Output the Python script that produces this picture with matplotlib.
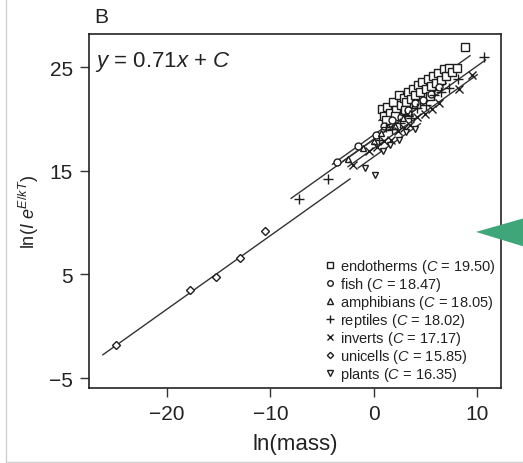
import matplotlib.pyplot as plt
from matplotlib.patches import Polygon
from matplotlib.lines import Line2D

plt.rcParams['font.family'] = ['Liberation Sans', 'DejaVu Sans']
plt.rcParams['mathtext.fontset'] = 'custom'
plt.rcParams['mathtext.rm'] = 'Liberation Sans'
plt.rcParams['mathtext.it'] = 'Liberation Sans:italic'

# Common slope and the group intercepts
slope = 0.71
groups = ["endotherms", "fish", "amphibians", "reptiles", "inverts", "unicells", "plants"]
intercepts = [19.50, 18.47, 18.05, 18.02, 17.17, 15.85, 16.35]

# x range each group's fitted line covers
line_start = [0.5, -4.0, -3.0, -8.0, -2.5, -26.2, -1.5]
line_end = [9.3, 7.0, 4.0, 10.8, 10.0, -2.3, 4.5]

# Points, one pair of lists per group
endo_x = [0.8, 1.0, 1.3, 1.6, 1.9, 2.1, 2.4, 2.6, 2.9, 3.1, 3.3, 3.6, 3.8, 4.0, 4.3, 4.5, 4.7,
          5.0, 5.2, 5.5, 5.7, 6.0, 6.2, 6.5, 6.8, 7.0, 7.3, 7.6, 8.0, 8.8, 1.2, 2.0, 3.0, 4.1, 5.4]
endo_y = [21.0, 20.3, 21.2, 20.6, 21.6, 20.9, 22.3, 21.3, 22.0, 21.6, 22.6, 21.9, 22.9, 22.3, 23.3,
          22.6, 23.6, 22.9, 23.9, 23.2, 24.1, 23.5, 24.4, 23.8, 24.8, 24.1, 24.9, 24.5, 24.9, 26.9,
          19.9, 20.3, 20.9, 21.4, 22.2]
fish_x = [-3.6, -1.5, 0.2, 1.0, 1.8, 2.6, 3.3, 4.0, 4.8, 5.5, 6.3]
fish_y = [15.8, 17.4, 18.5, 19.3, 19.9, 20.2, 20.9, 21.5, 21.8, 22.4, 23.1]
amph_x = [-2.5, -1.0, 0.0, 0.7, 1.4, 2.0, 2.8, 3.5]
amph_y = [16.1, 17.2, 17.9, 18.6, 19.2, 19.3, 20.1, 20.6]
rept_x = [-7.2, -4.4, 0.5, 1.2, 1.8, 2.5, 3.0, 3.6, 4.2, 5.0, 5.8, 6.5, 7.3, 8.1, 10.7]
rept_y = [12.3, 14.2, 18.0, 19.2, 19.0, 19.6, 20.4, 20.1, 21.1, 21.3, 22.3, 22.6, 23.0, 23.9, 26.0]
inv_x = [-2.0, -0.5, 0.3, 1.0, 1.7, 2.3, 2.9, 3.5, 4.2, 4.9, 5.6, 6.3, 8.2, 9.5]
inv_y = [15.6, 16.9, 17.3, 17.9, 18.0, 18.8, 19.1, 19.4, 20.2, 20.5, 21.0, 21.5, 22.9, 24.2]
uni_x = [-24.9, -17.8, -15.3, -12.9, -10.55]
uni_y = [-1.8, 3.5, 4.8, 6.6, 9.15]
plant_x = [-0.9, 0.1, 0.9, 1.6, 2.4, 3.1, 4.0]
plant_y = [15.3, 14.6, 16.9, 17.5, 18.0, 18.7, 19.0]

points_x = [endo_x, fish_x, amph_x, rept_x, inv_x, uni_x, plant_x]
points_y = [endo_y, fish_y, amph_y, rept_y, inv_y, uni_y, plant_y]
markers = ['s', 'o', '^', '+', 'x', 'D', 'v']
sizes = [5.5, 5, 5, 6.5, 5.5, 4, 5]

fig = plt.figure(figsize=(5.23, 4.64), dpi=100)
ax = fig.add_axes([0.170, 0.1616, 0.788, 0.763])

# Fitted lines first, markers on top
for i in range(len(groups)):
    xs = [line_start[i], line_end[i]]
    ys = [slope * v + intercepts[i] for v in xs]
    ax.plot(xs, ys, color='#333333', lw=1.0, zorder=1)

handles = []
for i in range(len(groups)):
    ax.plot(points_x[i], points_y[i], linestyle='none', marker=markers[i], ms=sizes[i],
            mfc='white' if markers[i] not in ['+', 'x'] else 'none', mec='#1e1e1e', mew=1.0, zorder=2)
    label = groups[i] + r" ($\mathit{C}$ = %.2f)" % intercepts[i]
    handles.append(Line2D([], [], linestyle='none', marker=markers[i], ms=sizes[i] * 0.8,
                          mfc='none', mec='#1e1e1e', mew=1.0, label=label))

ax.set_xlim(-27.55, 12.3)
ax.set_ylim(-5.96, 28.2)
ax.set_xticks([-20, -10, 0, 10])
ax.set_yticks([-5, 5, 15, 25])
ax.set_xticklabels(['\u221220', '\u221210', '0', '10'])
ax.set_yticklabels(['\u22125', '5', '15', '25'])
ax.tick_params(direction='out', length=6.5, width=1.0, labelsize=15, color='#333333',
               labelcolor='#222222', pad=5)
for s in ax.spines.values():
    s.set_linewidth(1.2)
    s.set_color('#222222')

ax.set_xlabel('ln(mass)', fontsize=16, color='#222222', labelpad=7)
ax.set_ylabel(r'ln($\mathit{I}\ \mathit{e}^{\mathit{E/kT}}$)', fontsize=13, color='#222222', labelpad=6)

ax.text(0.015, 0.924, r'$\mathit{y}$ = 0.71$\mathit{x}$ + $\mathit{C}$', transform=ax.transAxes,
        fontsize=16, ha='left', va='center', color='#222222')
fig.text(0.180, 0.962, 'B', fontsize=15, ha='left', va='center', color='#222222')

leg = ax.legend(handles=handles, loc='lower right', bbox_to_anchor=(1.0, 0.0), frameon=False,
                fontsize=10.5, handlelength=0.6, handletextpad=0.35, labelspacing=0.0,
                borderaxespad=0.15, borderpad=0.2)
for t in leg.get_texts():
    t.set_color('#222222')

# Light frame around the picture and the green pointer on the right
fig.add_artist(Line2D([6 / 523, 6 / 523], [1 / 464, 1.0], transform=fig.transFigure, color='#d0d0d0', lw=1))
fig.add_artist(Line2D([6 / 523, 1.0], [1.5 / 464, 1.5 / 464], transform=fig.transFigure, color='#d0d0d0', lw=1))
fig.add_artist(Polygon([[476 / 523, 0.498], [1.0, 0.527], [1.0, 0.467]], closed=True,
                       transform=fig.transFigure, color='#3fa67a', lw=0))

fig.savefig('out.png', dpi=100)
